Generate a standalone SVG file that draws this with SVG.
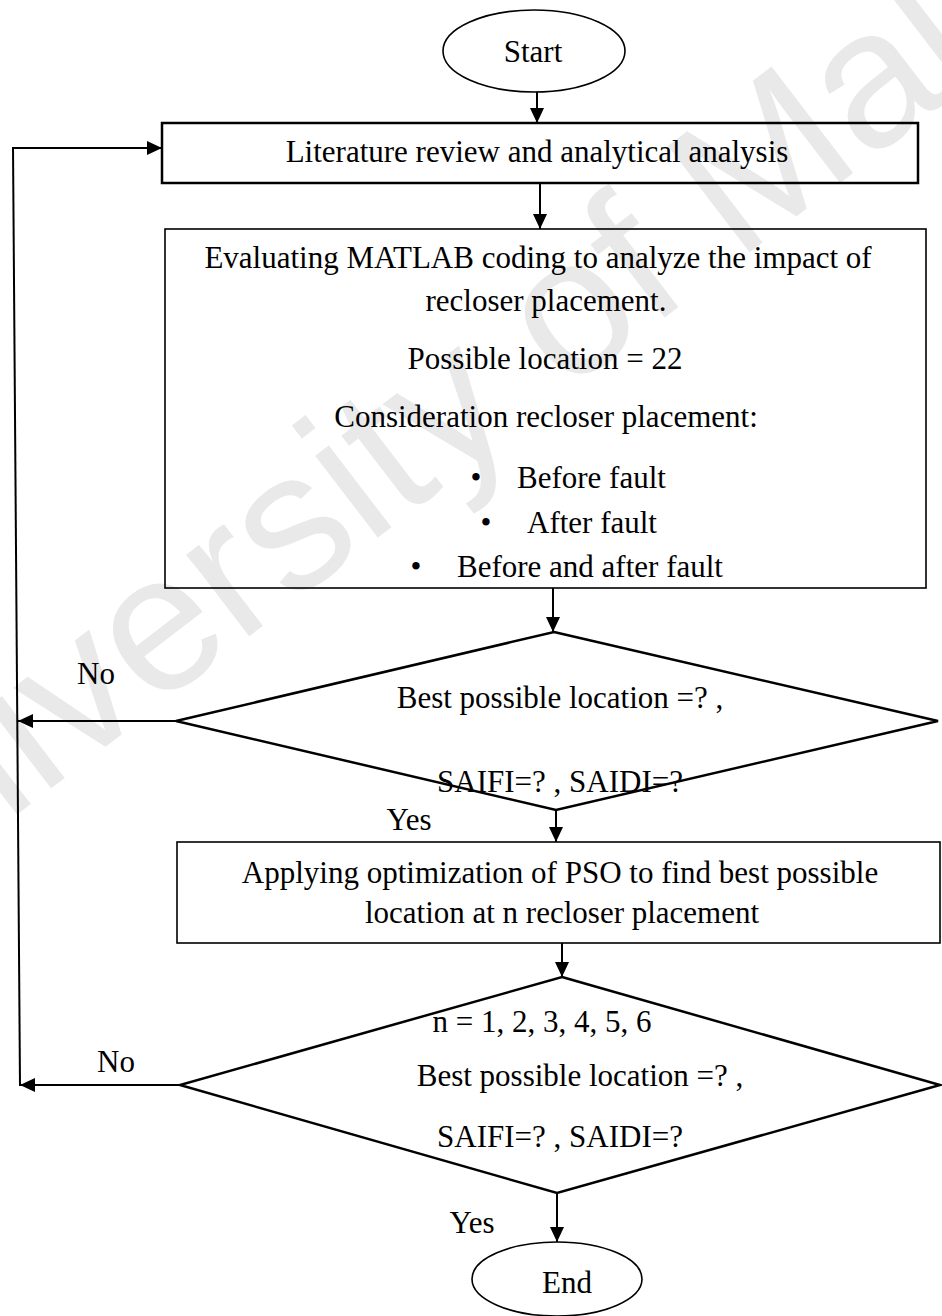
<svg xmlns="http://www.w3.org/2000/svg" width="942" height="1316" viewBox="0 0 942 1316">
<style>
  .t { font-family: "Liberation Serif", "Times New Roman", serif; font-size: 31px; fill: #000; }
  .m { text-anchor: middle; }
  .box { fill: none; stroke: #000; stroke-width: 1.6; }
  .thick { fill: none; stroke: #000; stroke-width: 2.5; }
  .dia { fill: none; stroke: #000; stroke-width: 2.5; stroke-linejoin: miter; }
  .ln { fill: none; stroke: #000; stroke-width: 2; }
  .wm { font-family: "Liberation Sans", Arial, sans-serif; font-size: 195px; fill: #e9e9e9; }
</style>
<defs>
  <marker id="ah" markerUnits="userSpaceOnUse" markerWidth="16" markerHeight="14" refX="15" refY="7" orient="auto">
    <path d="M0,0 L15,7 L0,14 Z" fill="#000"/>
  </marker>
</defs>
<rect width="942" height="1316" fill="#fff"/>
<text class="wm" transform="translate(-157,948) rotate(-37.5)">University of Malaya</text>

<g id="start">
  <ellipse cx="534" cy="51" rx="91" ry="41" class="box" stroke-width="2"/>
  <text class="t m" x="533" y="62">Start</text>
</g>
<g id="literature">
  <rect x="162" y="123" width="756" height="60" class="thick"/>
  <text class="t m" x="537" y="162">Literature review and analytical analysis</text>
</g>
<g id="matlab">
  <rect x="165" y="229" width="761" height="359" class="box"/>
  <text class="t m" x="538" y="268">Evaluating MATLAB coding to analyze the impact of</text>
  <text class="t m" x="546" y="311">recloser placement.</text>
  <text class="t m" x="545" y="369">Possible location = 22</text>
  <text class="t m" x="546" y="427">Consideration recloser placement:</text>
  <text class="t m" x="476" y="488">•</text>
  <text class="t" x="517" y="488">Before fault</text>
  <text class="t m" x="486" y="533">•</text>
  <text class="t" x="527" y="533">After fault</text>
  <text class="t m" x="416" y="577">•</text>
  <text class="t" x="457" y="577">Before and after fault</text>
</g>
<g id="decision1">
  <polygon points="554,632 938,721 556,810 176,721" class="dia"/>
  <text class="t m" x="560" y="708">Best possible location =? ,</text>
  <text class="t m" x="560" y="792">SAIFI=? , SAIDI=?</text>
</g>
<g id="pso">
  <rect x="177" y="842" width="763" height="101" class="box"/>
  <text class="t m" x="560" y="883">Applying optimization of PSO to find best possible</text>
  <text class="t m" x="562" y="923">location at n recloser placement</text>
</g>
<g id="decision2">
  <polygon points="562,977 940,1085 557,1193 180,1085" class="dia"/>
  <text class="t m" x="542" y="1032">n = 1, 2, 3, 4, 5, 6</text>
  <text class="t m" x="580" y="1086">Best possible location =? ,</text>
  <text class="t m" x="560" y="1147">SAIFI=? , SAIDI=?</text>
</g>
<g id="end">
  <ellipse cx="557" cy="1279" rx="85" ry="37" class="box" stroke-width="2"/>
  <text class="t m" x="567" y="1293">End</text>
</g>

<g id="connectors">
  <line x1="537" y1="92" x2="537" y2="123" class="ln" marker-end="url(#ah)"/>
  <line x1="540" y1="183" x2="540" y2="229" class="ln" marker-end="url(#ah)"/>
  <line x1="553" y1="588" x2="553" y2="632" class="ln" marker-end="url(#ah)"/>
  <line x1="556" y1="810" x2="556" y2="842" class="ln" marker-end="url(#ah)"/>
  <line x1="562" y1="943" x2="562" y2="977" class="ln" marker-end="url(#ah)"/>
  <line x1="557" y1="1193" x2="557" y2="1242" class="ln" marker-end="url(#ah)"/>
  <line x1="176" y1="721" x2="18" y2="721" class="ln" marker-end="url(#ah)"/>
  <line x1="180" y1="1085" x2="20" y2="1085" class="ln" marker-end="url(#ah)"/>
  <line x1="20" y1="1086" x2="13" y2="147" class="ln" stroke-width="1.5"/>
  <line x1="13" y1="148" x2="162" y2="148" class="ln" marker-end="url(#ah)"/>
  <text class="t m" x="96" y="684">No</text>
  <text class="t m" x="409" y="830">Yes</text>
  <text class="t m" x="116" y="1072">No</text>
  <text class="t m" x="472" y="1233">Yes</text>
</g>
</svg>
